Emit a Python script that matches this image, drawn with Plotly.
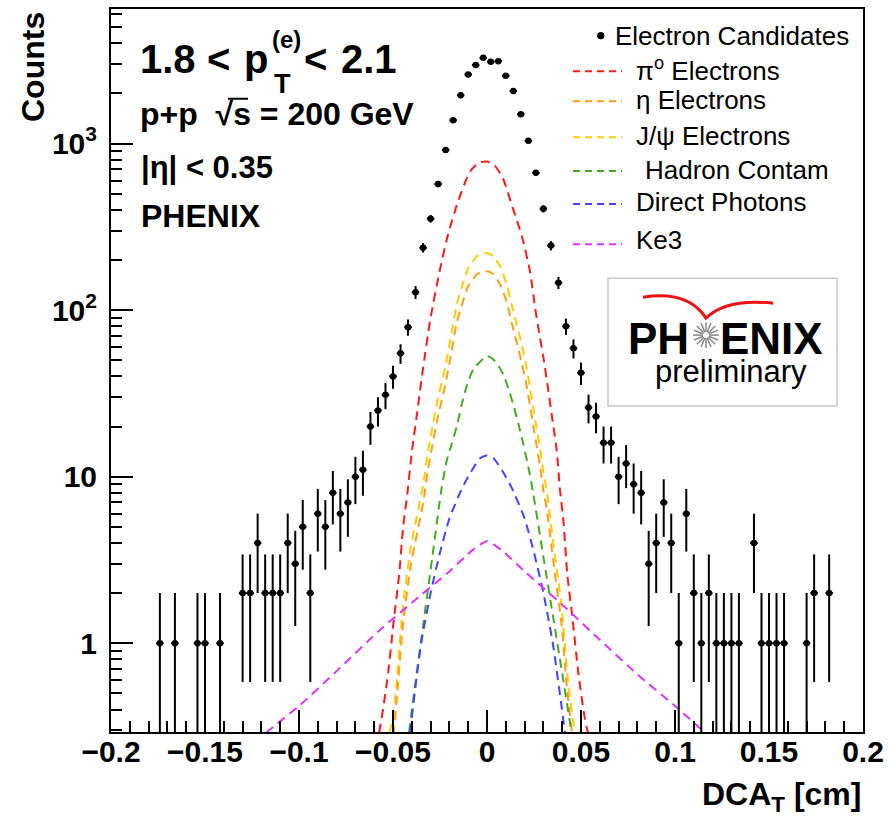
import numpy as np
import plotly.graph_objects as go

# ---------------- data ----------------
bin_lo = -0.2
bin_w = 0.004
counts = [0, 0, 0, 0, 0, 0, 1, 0, 1, 0,
          0, 1, 1, 0, 1, 0, 0, 2, 2, 4,
          2, 2, 2, 4, 3, 5, 2, 6, 5, 8,
          6, 7, 10, 11, 20, 25, 31, 40, 55, 79,
          128, 237, 354, 571, 916, 1380, 1950, 2600, 2960, 3270,
          3100, 3125, 2555, 2070, 1500, 1040, 668, 406, 244, 146,
          80, 59, 42, 26, 23, 16, 16, 10, 12, 9,
          8, 3, 4, 7, 4, 1, 6, 2, 1, 2,
          1, 1, 1, 1, 0, 4, 1, 1, 1, 1,
          0, 0, 1, 2, 0, 2, 0, 0, 0, 0]

pi0_x = [-0.0574, -0.0561, -0.0526, -0.0496, -0.0467, -0.0446, -0.0426, -0.0399, -0.0372, -0.034,
         -0.0303, -0.025, -0.0207, -0.0154, -0.009, -0.004, 0.0, 0.004, 0.0085, 0.0138,
         0.0186, 0.0229, 0.0255, 0.028, 0.030, 0.0326, 0.0349, 0.0371, 0.0388, 0.0406,
         0.0427, 0.0456, 0.0486, 0.0521, 0.054]
pi0_y = [0.29, 0.35, 0.66, 1.37, 2.6, 5.0, 7.5, 14.3, 24, 45,
         86, 176, 285, 450, 680, 770, 780, 740, 617, 408,
         277, 170, 105, 70, 52, 33, 21.6, 14.3, 8.4, 5.5,
         2.6, 1.37, 0.66, 0.35, 0.28]

jpsi_x = [-0.052, -0.050, -0.0474, -0.0447, -0.0405, -0.0339, -0.0316, -0.0294, -0.0264, -0.0223,
          -0.0188, -0.0161, -0.0135, -0.0099, -0.005, 0.0, 0.0035, 0.0069, 0.0105, 0.0131,
          0.0158, 0.0185, 0.0211, 0.0229, 0.0246, 0.0264, 0.0282, 0.0299, 0.0318, 0.0355,
          0.0397, 0.0424, 0.0456, 0.047]
jpsi_y = [0.29, 0.35, 0.72, 1.65, 3.8, 9.0, 13.7, 18.8, 28.5, 45,
          73, 108, 136, 179, 212, 220, 210, 183, 143, 108,
          82, 62, 45, 34, 26, 19.6, 14.9, 10.8, 8.2, 3.8,
          1.65, 0.72, 0.35, 0.29]

eta_x = jpsi_x
eta_y = [0.23, 0.27, 0.56, 1.29, 2.96, 7.0, 10.7, 14.7, 22.2, 35,
         57, 84, 106, 140, 165, 171, 164, 143, 112, 84,
         64, 48, 35, 26.5, 20.3, 15.3, 11.6, 8.4, 6.4, 2.96,
         1.29, 0.56, 0.27, 0.23]

had_x = [-0.0415, -0.038, -0.034, -0.029, -0.0241, -0.0214, -0.0188, -0.0161, -0.0135, -0.0108,
         -0.0073, 0.0, 0.0043, 0.0087, 0.0113, 0.014, 0.0166, 0.0193, 0.022, 0.0246,
         0.030, 0.035, 0.040, 0.045]
had_y = [0.29, 0.59, 1.27, 3.35, 8.6, 12.5, 15.7, 20, 27, 35,
         44, 53, 49.5, 41, 34, 27, 21, 15.7, 11.4, 7.9,
         3.3, 1.48, 0.66, 0.29]

gam_x = [-0.041, -0.035, -0.030, -0.025, -0.020, -0.0131, -0.0087, -0.0037, 0.0,
         0.0034, 0.0087, 0.0131, 0.020, 0.025, 0.030, 0.035, 0.0415]
gam_y = [0.29, 1.0, 2.0, 3.5, 5.6, 8.6, 10.6, 12.9, 13.4,
         12.9, 10.6, 8.6, 5.6, 3.5, 2.0, 1.0, 0.29]

ke3_x = [-0.1176, -0.10, -0.08, -0.057, -0.04, -0.02, -0.008, 0.0, 0.008, 0.02,
         0.0424, 0.06, 0.08, 0.10, 0.116]
ke3_y = [0.29, 0.42, 0.68, 1.2, 1.75, 2.7, 3.6, 4.1, 3.6, 2.7,
         1.61, 1.05, 0.65, 0.42, 0.29]

legend_labels = ["Electron Candidates", "π<sup>o</sup> Electrons", "η Electrons",
                 "J/ψ Electrons", "Hadron Contam", "Direct Photons", "Ke3"]
x_tickvals = [-0.2, -0.15, -0.1, -0.05, 0, 0.05, 0.1, 0.15, 0.2]
x_ticktext = ["−0.2", "−0.15", "−0.1", "−0.05", "0", "0.05", "0.1", "0.15", "0.2"]
y_tickvals = [1, 10, 100, 1000]
y_ticktext = ["1", "10", "10<sup>2</sup>", "10<sup>3</sup>"]

# ---------------- styles ----------------
C_PI0 = "#FF1A1A"
C_ETA = "#FF9E1A"
C_JPSI = "#FFCC00"
C_HAD = "#44AA22"
C_GAM = "#4444FF"
C_KE3 = "#DD33FF"
FONT = "Liberation Sans"

W, H = 894, 817
L, R, T, B = 111, 863, 7, 732


def px(x):
    return (x - L) / (R - L)


def py(y):
    return (B - y) / (B - T)


fig = go.Figure()

curves = [(pi0_x, pi0_y, C_PI0), (jpsi_x, jpsi_y, C_JPSI), (eta_x, eta_y, C_ETA),
          (had_x, had_y, C_HAD), (gam_x, gam_y, C_GAM), (ke3_x, ke3_y, C_KE3)]
for cx, cy, col in curves:
    fig.add_trace(go.Scatter(x=cx, y=cy, mode="lines",
                             line=dict(color=col, width=2, dash="9px,6px", shape="spline", smoothing=0.6),
                             hoverinfo="skip", showlegend=False))

c = np.array(counts, dtype=float)
centers = bin_lo + bin_w * (np.arange(len(c)) + 0.5)
m = c > 0
fig.add_trace(go.Scatter(
    x=centers[m], y=c[m], mode="markers",
    marker=dict(color="black", size=6.5, symbol="circle"),
    error_y=dict(type="data", array=np.sqrt(c[m]), thickness=2, width=0, color="black"),
    error_x=dict(type="constant", value=bin_w / 2, thickness=2, width=0, color="black"),
    showlegend=False))

fig.update_layout(
    width=W, height=H,
    margin=dict(l=L, r=W - R, t=T, b=H - B),
    paper_bgcolor="white", plot_bgcolor="white", showlegend=False,
    font=dict(family=FONT, color="black"),
)
fig.update_xaxes(
    range=[-0.2, 0.2], tickmode="array", tickvals=x_tickvals, ticktext=x_ticktext,
    ticks="inside", ticklen=22, tickwidth=2, tickcolor="black",
    minor=dict(tick0=0, dtick=0.01, ticks="inside", ticklen=11, tickwidth=2, tickcolor="black"),
    showline=True, linewidth=2, linecolor="black", mirror=True,
    showgrid=False, zeroline=False, ticklabelstandoff=-8,
    tickfont=dict(size=30, family=FONT, color="black", weight="bold"),
)
minor_y = [k * 10.0 ** d for d in range(-1, 4) for k in range(2, 10)]
fig.update_yaxes(
    type="log", range=[-0.533, 3.808], tickmode="array", tickvals=y_tickvals, ticktext=y_ticktext,
    ticks="inside", ticklen=22, tickwidth=2, tickcolor="black",
    minor=dict(tickmode="array", tickvals=minor_y, ticks="inside", ticklen=11, tickwidth=2, tickcolor="black"),
    showline=True, linewidth=2, linecolor="black", mirror=True,
    showgrid=False, zeroline=False, ticklabelstandoff=6,
    tickfont=dict(size=30, family=FONT, color="black", weight="bold"),
)

ann = []


def add_text(text, x, y, size, xanchor="left", yanchor="middle", bold=True, color="black", angle=0, family=FONT):
    ann.append(dict(text=text, x=px(x), y=py(y), xref="paper", yref="paper",
                    xanchor=xanchor, yanchor=yanchor, showarrow=False, textangle=angle,
                    font=dict(size=size, family=family, color=color, weight="bold" if bold else "normal")))


# axis titles
add_text("Counts", 33, 8, 32, xanchor="center", yanchor="top", angle=-90)
add_text("DCA<sub>T</sub> [cm]", 863, 797, 32, xanchor="right")

# info block
add_text("1.8", 138, 57, 40)
add_text("&lt;", 205, 57, 40)
add_text("p", 242, 57, 40)
add_text("T", 272, 82, 27)
add_text("(e)", 270, 38, 24)
add_text("&lt;", 302, 57, 40)
add_text("2.1", 339, 57, 40)
add_text("p+p&nbsp; √s = 200 GeV", 138, 112, 32)
add_text("|η| &lt; 0.35", 139, 166, 31)
add_text("PHENIX", 139, 215, 32)

shapes = []
# sqrt overline
shapes.append(dict(type="line", xref="paper", yref="paper", x0=px(228), x1=px(248), y0=py(97), y1=py(97),
                   line=dict(color="black", width=2)))

# legend
leg_y = [34, 68, 98, 134, 168, 201, 239]
leg_col = [None, C_PI0, C_ETA, C_JPSI, C_HAD, C_GAM, C_KE3]
leg_tx = [613, 634, 634, 634, 643, 634, 634]
for lab, yy, col, tx in zip(legend_labels, leg_y, leg_col, leg_tx):
    add_text(lab, tx, yy, 26, bold=False)
    if col is None:
        shapes.append(dict(type="circle", xref="paper", yref="paper",
                           x0=px(597.5), x1=px(604), y0=py(30.5), y1=py(37),
                           fillcolor="black", line=dict(color="black", width=1)))
    else:
        ly = yy + 1.5 if yy < 230 else yy + 4
        shapes.append(dict(type="line", xref="paper", yref="paper", x0=px(573), x1=px(622),
                           y0=py(ly), y1=py(ly), line=dict(color=col, width=2, dash="7px,5px")))

# PHENIX preliminary logo
shapes.append(dict(type="rect", xref="paper", yref="paper", x0=px(608), x1=px(837), y0=py(277), y1=py(405),
                   line=dict(color="#C8C8C8", width=1.5), fillcolor="white", layer="above"))
sw = "M {:.4f},{:.4f} Q {:.4f},{:.4f} {:.4f},{:.4f} Q {:.4f},{:.4f} {:.4f},{:.4f}".format(
    px(643), py(296), px(688), py(289), px(706), py(317), px(726), py(297), px(773), py(302))
shapes.append(dict(type="path", xref="paper", yref="paper", path=sw,
                   line=dict(color="#EE1111", width=3), layer="above"))
cxs, cys = 706, 334
for k in range(16):
    a = k * np.pi / 8
    shapes.append(dict(type="line", xref="paper", yref="paper",
                       x0=px(cxs + 3 * np.cos(a)), y0=py(cys + 3 * np.sin(a)),
                       x1=px(cxs + 13 * np.cos(a)), y1=py(cys + 13 * np.sin(a)),
                       line=dict(color="#8A8A8A", width=1.5), layer="above"))
add_text("PH", 691, 337, 44, xanchor="right")
add_text("ENIX", 718, 337, 44)
add_text("preliminary", 731, 371, 31, xanchor="center", bold=False)

fig.update_layout(annotations=ann, shapes=shapes)
fig.write_html("out.html")
